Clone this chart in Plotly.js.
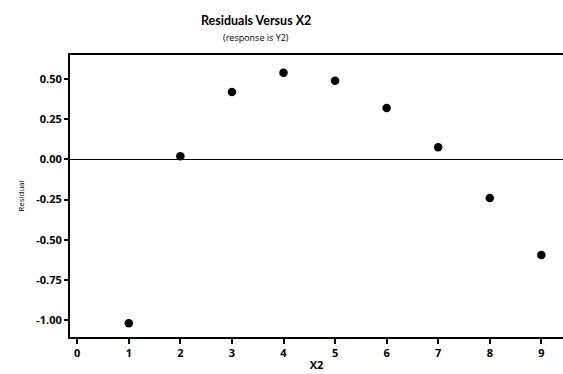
<!DOCTYPE html>
<html>
<head>
<meta charset="utf-8">
<script src="https://cdn.plot.ly/plotly-3.0.1.min.js"></script>
<style>html,body{margin:0;padding:0;background:#fff;}#chart{width:563px;height:374px;}</style>
</head>
<body>
<div id="chart"></div>
<script>
const xValues = [1, 2, 3, 4, 5, 6, 7, 8, 9];
const residuals = [-1.02, 0.02, 0.42, 0.54, 0.49, 0.32, 0.075, -0.24, -0.595];
const xTickVals = [0, 1, 2, 3, 4, 5, 6, 7, 8, 9];
const xTickText = ["0", "1", "2", "3", "4", "5", "6", "7", "8", "9"];
const yTickVals = [-1.0, -0.75, -0.5, -0.25, 0, 0.25, 0.5];
const yTickText = ["-1.00", "-0.75", "-0.50", "-0.25", "0.00", "0.25", "0.50"];

const font = "'Open Sans', 'DejaVu Sans', sans-serif";
const titleFont = "Lato, 'Open Sans', sans-serif";

Plotly.newPlot('chart', [{
  x: xValues,
  y: residuals,
  type: 'scatter',
  mode: 'markers',
  marker: {color: '#000', size: 8.5},
  hoverinfo: 'skip'
}], {
  width: 563, height: 374,
  margin: {l: 70, r: 0, t: 55, b: 37, pad: 0},
  paper_bgcolor: '#fff', plot_bgcolor: '#fff',
  showlegend: false,
  font: {family: font, color: '#000'},
  xaxis: {
    range: [-0.14, 9.42],
    tickvals: xTickVals, ticktext: xTickText,
    ticks: 'outside', ticklen: 5, tickwidth: 2, tickcolor: '#000',
    showline: true, linecolor: '#000', linewidth: 2, mirror: true,
    showgrid: false, zeroline: false,
    tickfont: {family: font, size: 11, weight: 'bold'},
    title: {text: 'X2', font: {family: font, size: 11, weight: 'bold'}, standoff: 2}
  },
  yaxis: {
    range: [-1.106, 0.65],
    tickvals: yTickVals, ticktext: yTickText,
    ticks: 'outside', ticklen: 4, tickwidth: 2, tickcolor: '#000',
    showline: true, linecolor: '#000', linewidth: 2,
    showgrid: false,
    zeroline: true, zerolinecolor: '#000', zerolinewidth: 1.5,
    tickfont: {family: font, size: 11, weight: 'bold'},
    title: {text: 'Residual', font: {family: font, size: 8}, standoff: 10}
  },
  annotations: [
    {text: 'Residuals Versus X2', xref: 'paper', yref: 'paper', x: (256-70)/493, y: 1 + (55-21)/282,
     xanchor: 'center', yanchor: 'middle', showarrow: false,
     font: {family: titleFont, size: 12.5, weight: 'bold'}},
    {text: '(response is Y2)', xref: 'paper', yref: 'paper', x: (256-70)/493, y: 1 + (55-37)/282,
     xanchor: 'center', yanchor: 'middle', showarrow: false,
     font: {family: font, size: 9}}
  ]
}, {displayModeBar: false, staticPlot: true});
</script>
</body>
</html>
